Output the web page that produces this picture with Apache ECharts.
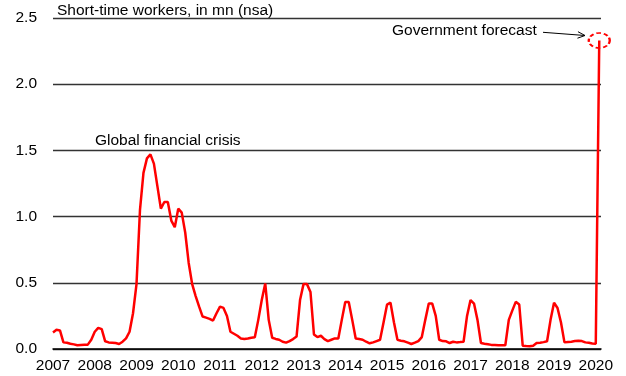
<!DOCTYPE html>
<html>
<head>
<meta charset="utf-8">
<script src="https://cdn.jsdelivr.net/npm/echarts@6/dist/echarts.min.js"></script>
<style>
  html, body { margin: 0; padding: 0; background: #fff; }
  #chart { width: 626px; height: 376px; }
</style>
</head>
<body>
<div id="chart"></div>
<script>
// Short-time workers in Germany, millions, not seasonally adjusted (monthly)
const firstYear = 2007;
const y2007 = [0.125, 0.145, 0.14, 0.05, 0.047, 0.04, 0.035, 0.028, 0.03, 0.032, 0.033, 0.07];
const y2008 = [0.13, 0.16, 0.15, 0.058, 0.05, 0.048, 0.045, 0.038, 0.055, 0.08, 0.13, 0.27];
const y2009 = [0.49, 1.05, 1.33, 1.44, 1.47, 1.40, 1.23, 1.06, 1.11, 1.11, 0.97, 0.92];
const y2010 = [1.06, 1.03, 0.88, 0.65, 0.49, 0.40, 0.32, 0.245, 0.237, 0.228, 0.215, 0.27];
const y2011 = [0.32, 0.31, 0.25, 0.13, 0.115, 0.10, 0.08, 0.076, 0.08, 0.085, 0.088, 0.22];
const y2012 = [0.37, 0.495, 0.22, 0.085, 0.076, 0.07, 0.055, 0.048, 0.06, 0.075, 0.094, 0.37];
const y2013 = [0.49, 0.49, 0.43, 0.11, 0.09, 0.10, 0.075, 0.06, 0.07, 0.08, 0.08, 0.22];
const y2014 = [0.355, 0.355, 0.22, 0.08, 0.075, 0.07, 0.055, 0.043, 0.05, 0.06, 0.07, 0.2];
const y2015 = [0.335, 0.35, 0.2, 0.069, 0.063, 0.058, 0.048, 0.038, 0.048, 0.06, 0.09, 0.22];
const y2016 = [0.343, 0.343, 0.25, 0.07, 0.06, 0.058, 0.045, 0.055, 0.05, 0.052, 0.055, 0.25];
const y2017 = [0.37, 0.343, 0.22, 0.045, 0.04, 0.036, 0.031, 0.03, 0.028, 0.028, 0.028, 0.22];
const y2018 = [0.29, 0.356, 0.336, 0.025, 0.022, 0.02, 0.025, 0.045, 0.048, 0.052, 0.058, 0.22];
const y2019 = [0.35, 0.31, 0.2, 0.05, 0.053, 0.055, 0.06, 0.063, 0.06, 0.05, 0.047, 0.042];
const y2020 = [0.04, 2.33]; // last value: government forecast

const yTicks = [0, 0.5, 1.0, 1.5, 2.0, 2.5];

const monthly = [].concat(y2007, y2008, y2009, y2010, y2011, y2012, y2013,
                          y2014, y2015, y2016, y2017, y2018, y2019, y2020);
const seriesData = monthly.map((v, i) => [i, v]);
const lastIdx = monthly.length - 1;

const FONT = '"Liberation Sans", Arial, sans-serif';
const FS = 15.5;

const chart = echarts.init(document.getElementById('chart'), null, { renderer: 'canvas' });

// arrow from the annotation text towards the forecast point
const arrowFrom = [543, 32.3];
const arrowTo = [585, 35.5];
const dx = arrowTo[0] - arrowFrom[0], dy = arrowTo[1] - arrowFrom[1];
const len = Math.hypot(dx, dy);
const ux = dx / len, uy = dy / len;
const headLen = 8, headAng = 0.42;
function rot(x, y, a) { return [x * Math.cos(a) - y * Math.sin(a), x * Math.sin(a) + y * Math.cos(a)]; }
const h1 = rot(-ux, -uy, headAng), h2 = rot(-ux, -uy, -headAng);

chart.setOption({
  animation: false,
  textStyle: { fontFamily: FONT },
  grid: { left: 53, right: 25, top: 18, bottom: 27, containLabel: false },
  xAxis: {
    type: 'value',
    min: 0,
    max: 157.5,
    interval: 12,
    axisLine: { show: true, lineStyle: { color: '#000', width: 1.5 } },
    axisTick: { show: false },
    splitLine: { show: false },
    axisLabel: {
      color: '#000',
      fontSize: FS,
      fontFamily: FONT,
      margin: 9,
      showMaxLabel: true,
      formatter: v => (Math.abs(v % 12) < 1e-6 ? String(firstYear + Math.round(v / 12)) : '')
    }
  },
  yAxis: {
    type: 'value',
    min: yTicks[0],
    max: yTicks[yTicks.length - 1],
    interval: 0.5,
    axisLine: { show: false },
    axisTick: { show: false },
    splitLine: { show: true, lineStyle: { color: '#333', width: 1.3 } },
    axisLabel: {
      color: '#000',
      fontSize: FS,
      fontFamily: FONT,
      margin: 16,
      formatter: v => v.toFixed(1)
    }
  },
  series: [{
    type: 'line',
    data: seriesData,
    showSymbol: false,
    symbol: 'none',
    lineStyle: { color: '#ff0000', width: 2.5 },
    markPoint: {
      symbol: 'circle',
      symbolSize: [21, 15],
      label: { show: false },
      itemStyle: { color: 'rgba(0,0,0,0)', borderColor: '#ff0000', borderWidth: 2, borderType: [4, 2.5] },
      data: [{ coord: [lastIdx, monthly[lastIdx]] }]
    }
  }],
  graphic: [
    { type: 'text', left: 57, top: 3,
      style: { text: 'Short-time workers, in mn (nsa)', font: FS + 'px ' + FONT, fill: '#000' } },
    { type: 'text', left: 95, top: 133,
      style: { text: 'Global financial crisis', font: FS + 'px ' + FONT, fill: '#000' } },
    { type: 'text', left: 392, top: 23,
      style: { text: 'Government forecast', font: FS + 'px ' + FONT, fill: '#000' } },
    { type: 'line', shape: { x1: arrowFrom[0], y1: arrowFrom[1], x2: arrowTo[0], y2: arrowTo[1] },
      style: { stroke: '#000', lineWidth: 1 } },
    { type: 'polyline',
      shape: { points: [
        [arrowTo[0] + h1[0] * headLen, arrowTo[1] + h1[1] * headLen],
        arrowTo,
        [arrowTo[0] + h2[0] * headLen, arrowTo[1] + h2[1] * headLen]
      ] },
      style: { stroke: '#000', lineWidth: 1, fill: null } }
  ]
});
</script>
</body>
</html>
